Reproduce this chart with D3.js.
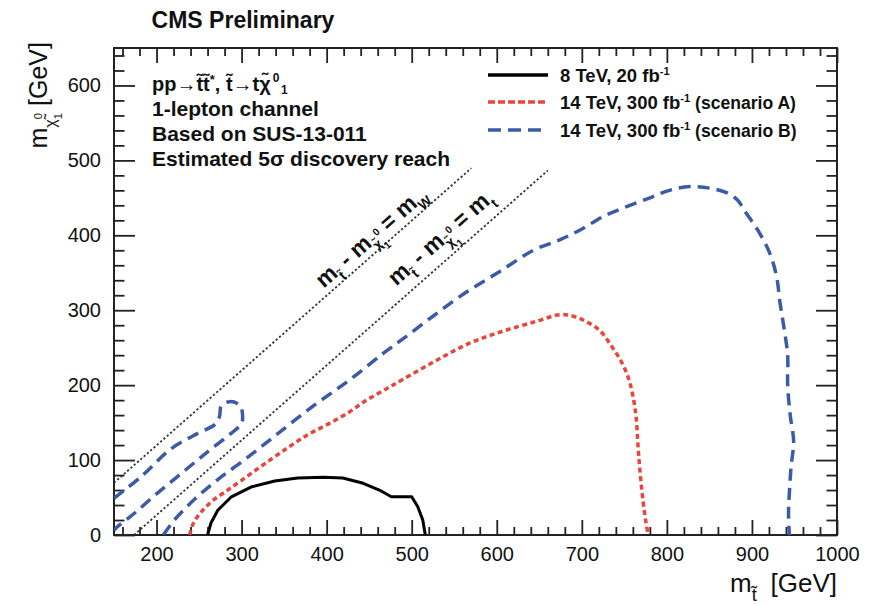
<!DOCTYPE html>
<html>
<head>
<meta charset="utf-8">
<script src="https://cdn.jsdelivr.net/npm/d3@7"></script>
<style>
  body { margin: 0; background: #fff; }
  text { font-family: "Liberation Sans", Arial, Helvetica, sans-serif; fill: #111; }
</style>
</head>
<body>
<div id="chart"></div>
<script>
// Chart data
//================================
var xDomain = [150, 1000];
var yDomain = [0, 650];
var xTicks = [200, 300, 400, 500, 600, 700, 800, 900, 1000];
var yTicks = [0, 100, 200, 300, 400, 500, 600];

// kinematic limits: m_stop - m_LSP = m_W, = m_top
var mW = 80.4;
var mTop = 173.5;
var mWRange = [150, 570];
var mTopRange = [173.5, 660];

// 8 TeV, 20 fb-1 reach [m_stop, m_LSP]
var reach8 = [[260, 0], [264, 16], [272, 33], [288, 51], [311, 64], [339, 72], [366, 76], [396, 77],
  [419, 76], [443, 69], [462, 60], [476, 51], [500, 51], [507, 38], [513, 20], [516, 0]];

// 14 TeV, 300 fb-1 scenario A
var reachA = [[239, 0], [243, 15], [252, 30], [265, 45], [280, 57], [300, 73], [327, 95], [355, 117],
  [378, 134], [400, 147], [425, 163], [447, 180], [470, 195], [490, 208], [529, 233], [568, 256],
  [607, 272], [646, 285], [674, 294], [690, 292], [705, 285], [721, 273], [735, 252], [748, 228],
  [756, 205], [761, 180], [764, 155], [766, 120], [768, 90], [772, 45], [775, 20], [778, 0]];

// 14 TeV, 300 fb-1 scenario B (main contour and the compressed-region island)
var reachB = [[208, 0], [221, 20], [245, 48], [272, 74], [303, 100], [339, 132], [384, 172], [427, 207],
  [466, 242], [490, 262], [525, 292], [564, 324], [604, 352], [643, 380], [674, 394], [698, 407],
  [725, 425], [752, 438], [780, 450], [803, 460], [827, 465], [850, 463], [870, 457], [883, 447],
  [893, 430], [909, 403], [921, 376], [929, 345], [933, 310], [938, 274], [942, 240], [942, 200],
  [945, 160], [949, 125], [946, 91], [944, 56], [943, 29], [944, 0]];
var reachBIsland = [[150, 49], [182, 78], [217, 115], [249, 136], [268, 147], [274, 158], [276, 172],
  [286, 178], [298, 173], [301, 162], [300, 149], [288, 136], [260, 111], [229, 82], [198, 53],
  [174, 29], [163, 19], [153, 10], [150, 6]];

var legendLabels = ["8 TeV, 20 fb", "14 TeV, 300 fb", "14 TeV, 300 fb"];
var legendSuffix = ["", " (scenario A)", " (scenario B)"];
var infoLines = ["1-lepton channel", "Based on SUS-13-011", "Estimated 5\u03c3 discovery reach"];

// Set up our chart area
//================================
var svgWidth = 875;
var svgHeight = 605;

var margin = {
  top: 48,
  right: 38,
  bottom: 70,
  left: 114
};

var width = svgWidth - margin.left - margin.right;
var height = svgHeight - margin.top - margin.bottom;

var svg = d3.select("#chart")
  .append("svg")
  .attr("width", svgWidth)
  .attr("height", svgHeight);

var chartGroup = svg.append("g")
  .attr("transform", `translate(${margin.left}, ${margin.top})`);

var x = d3.scaleLinear().domain(xDomain).range([0, width]);
var y = d3.scaleLinear().domain(yDomain).range([height, 0]);

// helper for text with sub/superscripts
function richText(sel, parts, fs) {
  var t = sel.append("text").style("font-size", fs + "px");
  var cur = 0;
  parts.forEach(function(p) {
    var off = (p.off || 0) * fs;
    var ts = t.append("tspan")
      .attr("dy", off - cur)
      .style("font-size", (p.size || 1) * fs + "px")
      .text(p.t);
    if (p.dx) ts.attr("dx", p.dx * fs);
    cur = off;
  });
  return t;
}

// minor ticks every 20
var xMinor = d3.range(160, 1001, 20).filter(d => d % 100 != 0);
var yMinor = d3.range(20, 650, 20).filter(d => d % 100 != 0);

function styleAxis(g) {
  g.select(".domain").remove();
  g.selectAll(".tick line").attr("stroke", "#222").attr("stroke-width", 1.8);
  g.selectAll("text").style("font-size", "20px").attr("fill", "#111");
}

chartGroup.append("g")
  .attr("transform", `translate(0, ${height})`)
  .call(d3.axisBottom(x).tickValues(xTicks).tickSize(-15).tickPadding(12).tickFormat(d3.format("d")))
  .call(styleAxis);
chartGroup.append("g")
  .attr("transform", `translate(0, ${height})`)
  .call(d3.axisBottom(x).tickValues(xMinor).tickSize(-8).tickFormat(""))
  .call(styleAxis);
chartGroup.append("g")
  .call(d3.axisTop(x).tickValues(xTicks).tickSize(-15).tickFormat(""))
  .call(styleAxis);
chartGroup.append("g")
  .call(d3.axisTop(x).tickValues(xMinor).tickSize(-8).tickFormat(""))
  .call(styleAxis);

chartGroup.append("g")
  .call(d3.axisLeft(y).tickValues(yTicks).tickSize(-21).tickPadding(13))
  .call(styleAxis);
chartGroup.append("g")
  .call(d3.axisLeft(y).tickValues(yMinor).tickSize(-10.5).tickFormat(""))
  .call(styleAxis);
chartGroup.append("g")
  .attr("transform", `translate(${width}, 0)`)
  .call(d3.axisRight(y).tickValues(yTicks).tickSize(-21).tickFormat(""))
  .call(styleAxis);
chartGroup.append("g")
  .attr("transform", `translate(${width}, 0)`)
  .call(d3.axisRight(y).tickValues(yMinor).tickSize(-10.5).tickFormat(""))
  .call(styleAxis);

// frame
chartGroup.append("rect")
  .attr("width", width)
  .attr("height", height)
  .attr("fill", "none")
  .attr("stroke", "#222")
  .attr("stroke-width", 2);

// clip for the contours
chartGroup.append("clipPath").attr("id", "plotclip")
  .append("rect").attr("width", width).attr("height", height);

var plot = chartGroup.append("g").attr("clip-path", "url(#plotclip)");

// diagonal kinematic lines
plot.append("line")
  .attr("x1", x(mWRange[0])).attr("y1", y(mWRange[0] - mW))
  .attr("x2", x(mWRange[1])).attr("y2", y(mWRange[1] - mW))
  .attr("stroke", "#333").attr("stroke-width", 1.8).attr("stroke-dasharray", "2.2,2.2");
plot.append("line")
  .attr("x1", x(mTopRange[0])).attr("y1", y(mTopRange[0] - mTop))
  .attr("x2", x(mTopRange[1])).attr("y2", y(mTopRange[1] - mTop))
  .attr("stroke", "#333").attr("stroke-width", 1.8).attr("stroke-dasharray", "2.2,2.2");

var smooth = d3.line().x(d => x(d[0])).y(d => y(d[1])).curve(d3.curveCatmullRom.alpha(0.5));
var straight = d3.line().x(d => x(d[0])).y(d => y(d[1]));

plot.append("path").datum(reachBIsland).attr("d", smooth)
  .attr("fill", "none").attr("stroke", "#3b5ba6").attr("stroke-width", 3.5)
  .attr("stroke-dasharray", "12,7");
plot.append("path").datum(reachB).attr("d", smooth)
  .attr("fill", "none").attr("stroke", "#3b5ba6").attr("stroke-width", 3.5)
  .attr("stroke-dasharray", "12,7");
plot.append("path").datum(reachA).attr("d", smooth)
  .attr("fill", "none").attr("stroke", "#e8463b").attr("stroke-width", 3.5)
  .attr("stroke-dasharray", "5,3.5");
plot.append("path").datum(reach8).attr("d", straight)
  .attr("fill", "none").attr("stroke", "#000").attr("stroke-width", 3)
  .attr("stroke-linejoin", "round");

// labels on the diagonals
var angle = Math.atan2(y(0) - y(100), x(250) - x(150)) * 180 / Math.PI;
function diagLabel(x0, dm, last, off) {
  var g = chartGroup.append("g")
    .attr("transform", `translate(${x(x0)}, ${y(x0 - dm)}) rotate(${-angle})`);
  richText(g, [
    {t: "m"}, {t: "t\u0303", off: 0.3, size: 0.6},
    {t: " - m", off: 0}, {t: "\u03c7\u0303", off: 0.3, size: 0.6},
    {t: "0", off: -0.2, size: 0.45}, {t: "1", off: 0.55, size: 0.45, dx: -0.25},
    {t: " = m", off: 0}, {t: last, off: 0.3, size: 0.6}
  ], 23).attr("y", off).style("font-weight", "bold");
}
diagLabel(402, mW, "W", -7);
diagLabel(492, mTop, "t", -13);

// legend
var legendStyles = [
  {color: "#000", dash: null},
  {color: "#e8463b", dash: "7,3"},
  {color: "#3b5ba6", dash: "13,7"}
];
var legendY = [75, 102, 130];
legendLabels.forEach(function(lab, i) {
  chartGroup.append("line")
    .attr("x1", 488 - margin.left).attr("x2", 548 - margin.left)
    .attr("y1", legendY[i] - margin.top).attr("y2", legendY[i] - margin.top)
    .attr("stroke", legendStyles[i].color).attr("stroke-width", 3.5)
    .attr("stroke-dasharray", legendStyles[i].dash);
  richText(chartGroup, [{t: lab}, {t: "-1", off: -0.4, size: 0.6}, {t: legendSuffix[i], off: 0, size: 0.95}], 18.5)
    .attr("x", 560 - margin.left).attr("y", legendY[i] - margin.top + 7)
    .style("font-weight", "bold");
});

// process text, top left
richText(svg, [
  {t: "pp\u2192t\u0303t\u0303"}, {t: "*", off: -0.35, size: 0.65}, {t: ", t\u0303\u2192t\u03c7\u0303", off: 0},
  {t: "0", off: -0.45, size: 0.6, dx: 0.1}, {t: "1", off: 0.15, size: 0.6, dx: 0.08}
], 20).attr("x", 152).attr("y", 91).style("font-weight", "bold");

svg.selectAll(".info")
  .data(infoLines)
  .enter()
  .append("text")
  .attr("x", 152)
  .attr("y", (d, i) => 116 + i * 25)
  .style("font-size", "21px")
  .style("font-weight", "bold")
  .text(d => d);

// title
svg.append("text")
  .attr("x", 243).attr("y", 28)
  .attr("text-anchor", "middle")
  .style("font-size", "23px")
  .style("font-weight", "bold")
  .text("CMS Preliminary");

// axis titles
richText(svg, [{t: "m"}, {t: "t\u0303", off: 0.35, size: 0.7}, {t: " [GeV]", off: 0, dx: 0.25}], 26)
  .attr("x", 837).attr("y", 592).attr("text-anchor", "end");

richText(svg.append("g").attr("transform", "translate(47, 42) rotate(-90)"),
  [{t: "m"}, {t: "\u03c7\u0303", off: 0.35, size: 0.65}, {t: "0", off: -0.2, size: 0.45},
   {t: "1", off: 0.6, size: 0.45, dx: -0.25}, {t: " [GeV]", off: 0}], 25)
  .attr("text-anchor", "end");
</script>
</body>
</html>
